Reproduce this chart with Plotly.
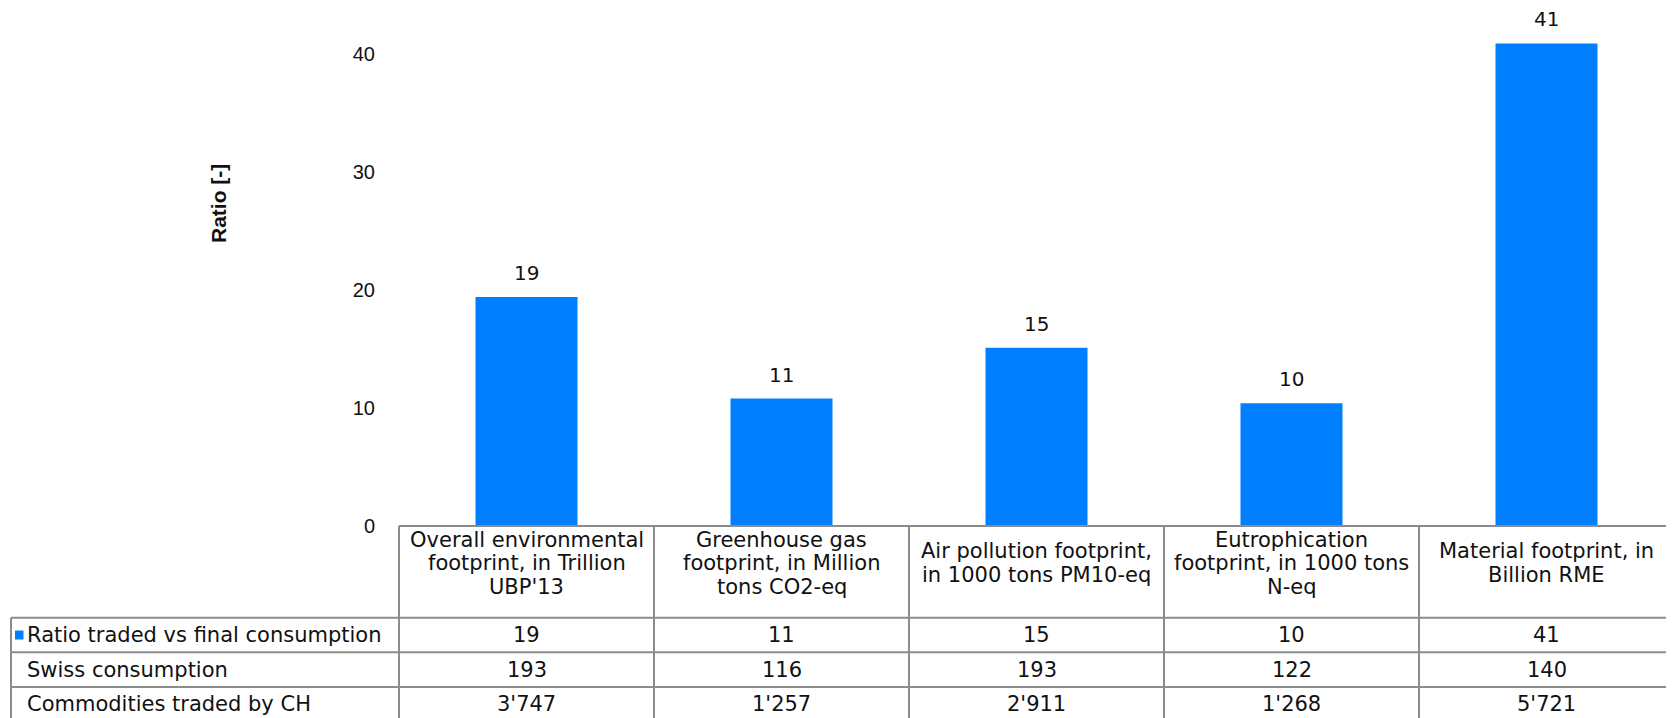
import plotly.graph_objects as go

# ---------------- data ----------------
categories = [
    "Overall environmental<br>footprint, in Trillion<br>UBP'13",
    "Greenhouse gas<br>footprint, in Million<br>tons CO2-eq",
    "Air pollution footprint,<br>in 1000 tons PM10-eq",
    "Eutrophication<br>footprint, in 1000 tons<br>N-eq",
    "Material footprint, in<br>Billion RME",
]
ratio = [19.4, 10.8, 15.1, 10.4, 40.9]
ratio_labels = ["19", "11", "15", "10", "41"]
swiss_consumption = ["193", "116", "193", "122", "140"]
commodities_traded = ["3'747", "1'257", "2'911", "1'268", "5'721"]
row_names = ["Ratio traded vs final consumption", "Swiss consumption", "Commodities traded by CH"]
y_ticks = [0, 10, 20, 30, 40]
y_title = "Ratio [-]"

# ---------------- layout geometry (pixels) ----------------
W, H = 1674, 718
L, R, T = 391, 0, 0
PLOT_BOTTOM = 518
B = H - PLOT_BOTTOM
PW = W - L - R
PH = PLOT_BOTTOM - T
PX_PER_UNIT = 11.8
Y_MAX = PH / PX_PER_UNIT
PX_PER_CAT = 255
X_MAX = -0.5 + PW / PX_PER_CAT

BLUE = "#0080ff"
GRID = "#8c8c8c"
TXT = "#111111"
FONT = "DejaVu Sans"
FS = 21

def px_x(x):
    return (x - L) / PW

def px_y(y):
    return (PLOT_BOTTOM - y) / PH

def cat_x(c):
    return (c + 0.5) * PX_PER_CAT / PW

TABLE_LEFT = 3
HEADER_BOTTOM = 609.7
ROW_H = 34.6
LINE_SP = 23.5
HEADER_MID = 555
LABEL_X = 17

fig = go.Figure()
fig.add_trace(go.Bar(
    x=categories, y=ratio, width=0.4,
    marker=dict(color=BLUE, line=dict(width=0)),
    name=row_names[0], showlegend=False, hoverinfo="skip",
))

annotations = []
shapes = []

# value labels above bars
for c, v, lab in zip(categories, ratio, ratio_labels):
    annotations.append(dict(x=c, y=v, xref="x", yref="y", text=lab, showarrow=False,
                            yshift=24, yanchor="middle", xanchor="center",
                            font=dict(family=FONT, size=20, color=TXT)))

# y-axis title
annotations.append(dict(x=px_x(210), y=px_y(195), xref="paper", yref="paper",
                        text="<b>" + y_title + "</b>", textangle=-90, showarrow=False,
                        xanchor="center", yanchor="middle",
                        font=dict(family="Liberation Sans, Arial", size=21, color=TXT)))

# header text (category names), line by line
for c in categories:
    lines = c.split("<br>")
    n = len(lines)
    for i, ln in enumerate(lines):
        yc = HEADER_MID + (i - (n - 1) / 2) * LINE_SP
        annotations.append(dict(x=c, y=px_y(yc), xref="x", yref="paper", text=ln,
                                showarrow=False, xanchor="center", yanchor="middle",
                                font=dict(family=FONT, size=FS, color=TXT)))

# body rows
rows = [ratio_labels, swiss_consumption, commodities_traded]
for r, (name, vals) in enumerate(zip(row_names, rows)):
    yc = HEADER_BOTTOM + ROW_H * (r + 0.5)
    annotations.append(dict(x=px_x(LABEL_X), y=px_y(yc), xref="paper", yref="paper",
                            text=name, showarrow=False, xanchor="left", yanchor="middle",
                            font=dict(family=FONT, size=FS, color=TXT)))
    for c, v in zip(categories, vals):
        annotations.append(dict(x=c, y=px_y(yc), xref="x", yref="paper", text=v,
                                showarrow=False, xanchor="center", yanchor="middle",
                                font=dict(family=FONT, size=FS, color=TXT)))

# legend key square
yc0 = HEADER_BOTTOM + ROW_H * 0.5
shapes.append(dict(type="rect", xref="paper", yref="paper",
                   x0=px_x(7), x1=px_x(15.5), y0=px_y(yc0 - 4.5), y1=px_y(yc0 + 4.5),
                   fillcolor=BLUE, line=dict(width=0)))

# table grid lines
line = dict(color=GRID, width=2)
bottom = H + 10
ncat = len(categories)
shapes.append(dict(type="line", xref="paper", yref="paper", x0=0, x1=1,
                   y0=px_y(PLOT_BOTTOM), y1=px_y(PLOT_BOTTOM), line=line))
for r in range(3):
    yy = HEADER_BOTTOM + ROW_H * r
    shapes.append(dict(type="line", xref="paper", yref="paper", x0=px_x(TABLE_LEFT), x1=1,
                       y0=px_y(yy), y1=px_y(yy), line=line))
for i in range(ncat):
    xb = cat_x(i - 0.5)
    shapes.append(dict(type="line", xref="paper", yref="paper", x0=xb, x1=xb,
                       y0=px_y(PLOT_BOTTOM), y1=px_y(bottom), line=line))
shapes.append(dict(type="line", xref="paper", yref="paper", x0=px_x(TABLE_LEFT), x1=px_x(TABLE_LEFT),
                   y0=px_y(HEADER_BOTTOM), y1=px_y(bottom), line=line))

fig.update_layout(
    width=W, height=H,
    margin=dict(l=L, r=R, t=T, b=B, pad=0),
    paper_bgcolor="white", plot_bgcolor="white",
    showlegend=False,
    bargap=0.6,
    xaxis=dict(type="category", range=[-0.5, X_MAX], showticklabels=False,
               showgrid=False, zeroline=False, showline=False, ticks=""),
    yaxis=dict(range=[0, Y_MAX], tickvals=y_ticks, ticktext=[str(t) for t in y_ticks],
               showgrid=False, zeroline=False, showline=False, ticks="",
               ticklabelstandoff=23,
               tickfont=dict(family="Liberation Sans, Arial", size=20, color=TXT)),
    annotations=annotations,
    shapes=shapes,
)

fig.write_html("out.html")
